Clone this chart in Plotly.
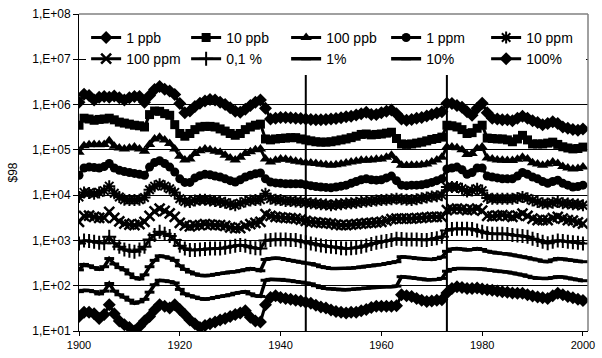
import plotly.graph_objects as go

# ---------------- data ----------------
years = list(range(1900, 2001))

series_names = ["1 ppb", "10 ppb", "100 ppb", "1 ppm", "10 ppm",
                "100 ppm", "0,1 %", "1%", "10%", "100%"]

ppb_1 = [
    1.12e6, 1.70e6, 1.58e6, 1.26e6, 1.45e6, 1.51e6, 1.45e6, 1.55e6, 1.41e6, 1.26e6,
    1.41e6, 1.51e6, 1.51e6, 1.12e6, 1.58e6, 2.14e6, 2.51e6, 2.19e6, 2.0e6, 1.66e6,
    1.05e6, 6.6e5, 7.2e5, 9.1e5, 1.07e6, 1.2e6, 1.29e6, 1.26e6, 1.12e6, 1.0e6,
    8.5e5, 7.1e5, 6.8e5, 7.9e5, 9.5e5, 1.12e6, 1.26e6, 8.3e5, 4.8e5, 5.0e5,
    5.2e5, 5.2e5, 5.1e5, 5.0e5, 4.9e5, 4.8e5, 4.7e5, 4.6e5, 4.6e5, 4.7e5,
    4.8e5, 4.9e5, 5.1e5, 5.4e5, 5.5e5, 5.9e5, 6.3e5, 6.8e5, 6.0e5, 6.0e5,
    6.6e5, 7.1e5, 7.6e5, 6.3e5, 4.8e5, 4.5e5, 4.7e5, 5.0e5, 5.2e5, 5.6e5,
    6.0e5, 6.5e5, 6.9e5, 1.07e6, 1.05e6, 9.5e5, 8.7e5, 6.9e5, 5.8e5, 8.3e5,
    1.07e6, 6.6e5, 5.0e5, 4.8e5, 4.6e5, 4.6e5, 4.4e5, 5.0e5, 5.5e5, 5.0e5,
    4.4e5, 4.0e5, 3.6e5, 3.8e5, 4.2e5, 3.8e5, 3.2e5, 3.0e5, 2.8e5, 2.7e5,
    2.9e5]

ppb_10 = [
    3.5e5, 5.0e5, 4.8e5, 4.5e5, 4.7e5, 4.8e5, 5.0e5, 4.6e5, 4.1e5, 3.9e5,
    3.7e5, 3.5e5, 3.4e5, 3.2e5, 6.0e5, 7.2e5, 7.1e5, 6.3e5, 5.8e5, 3.6e5,
    2.3e5, 2.0e5, 2.3e5, 2.8e5, 3.2e5, 3.3e5, 3.3e5, 3.2e5, 2.9e5, 2.6e5,
    2.3e5, 2.1e5, 2.3e5, 2.8e5, 3.2e5, 3.5e5, 3.7e5, 1.74e5, 1.66e5, 1.74e5,
    1.78e5, 1.82e5, 1.86e5, 1.86e5, 1.74e5, 1.66e5, 1.58e5, 1.51e5, 1.48e5, 1.48e5,
    1.51e5, 1.58e5, 1.66e5, 1.74e5, 1.86e5, 2.0e5, 2.19e5, 2.24e5, 2.14e5, 2.19e5,
    2.24e5, 2.34e5, 2.45e5, 1.78e5, 1.35e5, 1.32e5, 1.35e5, 1.41e5, 1.48e5, 1.58e5,
    1.70e5, 1.78e5, 1.91e5, 3.5e5, 3.4e5, 3.2e5, 2.8e5, 2.3e5, 2.4e5, 3.0e5,
    3.5e5, 1.82e5, 1.78e5, 1.74e5, 1.74e5, 1.66e5, 1.51e5, 1.74e5, 2.09e5, 1.66e5,
    1.35e5, 1.35e5, 1.35e5, 1.41e5, 1.48e5, 1.32e5, 1.17e5, 1.1e5, 1.05e5, 1.07e5,
    1.15e5]

ppb_100 = [
    8.9e4, 1.23e5, 1.29e5, 1.32e5, 1.29e5, 1.32e5, 1.58e5, 1.2e5, 1.1e5, 1.05e5,
    1.1e5, 1.15e5, 1.05e5, 9.3e4, 1.32e5, 1.74e5, 1.91e5, 1.66e5, 1.38e5, 1.05e5,
    7.2e4, 6.0e4, 6.3e4, 8.3e4, 9.5e4, 1.05e5, 1.0e5, 9.3e4, 8.9e4, 7.6e4,
    6.6e4, 6.0e4, 6.9e4, 8.3e4, 9.1e4, 1.0e5, 1.05e5, 6.3e4, 5.4e4, 5.9e4,
    6.3e4, 6.2e4, 5.9e4, 5.6e4, 5.4e4, 5.2e4, 5.1e4, 5.0e4, 4.8e4, 4.7e4,
    4.6e4, 4.7e4, 4.9e4, 5.1e4, 5.4e4, 5.6e4, 5.9e4, 5.9e4, 6.0e4, 6.2e4,
    6.3e4, 6.9e4, 7.6e4, 5.8e4, 4.6e4, 4.5e4, 4.6e4, 4.6e4, 4.7e4, 4.9e4,
    5.4e4, 6.0e4, 6.9e4, 1.15e5, 1.15e5, 1.12e5, 1.0e5, 7.9e4, 8.3e4, 1.07e5,
    1.15e5, 6.6e4, 6.3e4, 6.0e4, 5.9e4, 5.8e4, 5.8e4, 6.2e4, 6.9e4, 6.3e4,
    5.2e4, 4.9e4, 4.6e4, 4.9e4, 5.4e4, 5.0e4, 4.3e4, 4.0e4, 3.8e4, 3.9e4,
    4.2e4]

ppm_1 = [
    2.75e4, 3.98e4, 4.17e4, 4.07e4, 3.98e4, 4.27e4, 5.0e4, 3.98e4, 3.55e4, 3.31e4,
    3.16e4, 3.02e4, 2.88e4, 2.75e4, 4.17e4, 5.25e4, 5.75e4, 5.0e4, 4.17e4, 3.24e4,
    2.29e4, 1.91e4, 1.91e4, 2.4e4, 2.69e4, 2.88e4, 2.82e4, 2.63e4, 2.51e4, 2.29e4,
    2.09e4, 1.95e4, 2.19e4, 2.51e4, 2.75e4, 2.95e4, 3.09e4, 2.29e4, 1.95e4, 1.86e4,
    1.82e4, 1.78e4, 1.78e4, 1.78e4, 1.78e4, 1.70e4, 1.62e4, 1.55e4, 1.51e4, 1.48e4,
    1.45e4, 1.51e4, 1.58e4, 1.66e4, 1.82e4, 2.0e4, 2.19e4, 2.29e4, 2.19e4, 2.14e4,
    2.19e4, 2.4e4, 2.63e4, 2.09e4, 1.66e4, 1.62e4, 1.66e4, 1.66e4, 1.70e4, 1.78e4,
    1.91e4, 2.09e4, 2.29e4, 3.8e4, 3.98e4, 4.17e4, 3.63e4, 2.88e4, 3.16e4, 3.98e4,
    3.98e4, 2.63e4, 2.51e4, 2.4e4, 2.29e4, 2.29e4, 2.29e4, 2.63e4, 3.16e4, 2.88e4,
    2.51e4, 2.29e4, 2.0e4, 1.82e4, 2.0e4, 2.14e4, 1.82e4, 1.66e4, 1.51e4, 1.55e4,
    1.66e4]

ppm_10 = [
    9.1e3, 1.15e4, 1.12e4, 1.07e4, 1.15e4, 1.26e4, 1.58e4, 1.1e4, 9.1e3, 7.9e3,
    7.8e3, 7.8e3, 7.9e3, 8.9e3, 1.32e4, 1.58e4, 1.74e4, 1.58e4, 1.38e4, 1.15e4,
    8.3e3, 7.2e3, 7.1e3, 7.6e3, 7.9e3, 7.9e3, 7.6e3, 7.4e3, 7.1e3, 6.8e3,
    6.3e3, 6.0e3, 6.6e3, 7.2e3, 7.6e3, 7.8e3, 7.9e3, 1.07e4, 8.3e3, 7.9e3,
    7.8e3, 7.4e3, 7.4e3, 7.2e3, 7.1e3, 6.9e3, 6.6e3, 6.5e3, 6.3e3, 6.2e3,
    6.0e3, 6.2e3, 6.3e3, 6.5e3, 6.6e3, 6.8e3, 7.1e3, 7.2e3, 7.4e3, 7.6e3,
    7.8e3, 7.9e3, 8.1e3, 8.3e3, 8.1e3, 7.9e3, 7.8e3, 8.1e3, 8.5e3, 8.9e3,
    9.3e3, 9.5e3, 1.0e4, 1.51e4, 1.51e4, 1.51e4, 1.38e4, 1.2e4, 1.26e4, 1.38e4,
    1.26e4, 8.7e3, 8.3e3, 8.3e3, 8.3e3, 8.3e3, 8.3e3, 8.7e3, 9.1e3, 8.5e3,
    7.6e3, 7.1e3, 6.6e3, 6.5e3, 6.8e3, 7.1e3, 6.6e3, 6.5e3, 6.3e3, 6.2e3,
    6.0e3]

ppm_100 = [
    2.57e3, 3.47e3, 3.55e3, 3.31e3, 3.16e3, 3.16e3, 4.27e3, 3.16e3, 2.63e3, 2.34e3,
    2.24e3, 2.19e3, 2.29e3, 2.57e3, 3.47e3, 4.37e3, 5.01e3, 4.47e3, 3.98e3, 3.31e3,
    2.45e3, 2.14e3, 2.04e3, 2.14e3, 2.19e3, 2.29e3, 2.24e3, 2.19e3, 2.19e3, 2.09e3,
    1.95e3, 1.86e3, 1.86e3, 2.09e3, 2.29e3, 2.45e3, 2.57e3, 3.8e3, 3.47e3, 3.31e3,
    3.24e3, 3.16e3, 3.09e3, 3.02e3, 2.88e3, 2.69e3, 2.57e3, 2.51e3, 2.45e3, 2.4e3,
    2.34e3, 2.24e3, 2.19e3, 2.19e3, 2.24e3, 2.29e3, 2.34e3, 2.4e3, 2.45e3, 2.51e3,
    2.57e3, 2.75e3, 2.95e3, 3.02e3, 3.02e3, 3.02e3, 3.02e3, 3.09e3, 3.16e3, 3.24e3,
    3.31e3, 3.31e3, 3.31e3, 4.68e3, 4.9e3, 5.01e3, 4.9e3, 4.68e3, 4.79e3, 5.01e3,
    4.57e3, 3.47e3, 3.39e3, 3.55e3, 3.63e3, 3.47e3, 3.31e3, 3.55e3, 3.89e3, 3.47e3,
    3.02e3, 2.82e3, 2.82e3, 2.82e3, 3.09e3, 3.31e3, 3.02e3, 2.82e3, 2.75e3, 2.51e3,
    2.34e3]

pct_0_1 = [
    851, 1000, 977, 933, 891, 871, 1200, 871, 724, 631,
    589, 562, 631, 724, 1047, 1318, 1549, 1413, 1259, 1023,
    759, 661, 617, 617, 631, 646, 661, 661, 661, 692,
    724, 759, 794, 759, 708, 676, 661, 1000, 1023, 1047,
    1047, 1047, 1023, 1023, 955, 912, 851, 813, 776, 741,
    724, 708, 676, 661, 676, 692, 724, 776, 832, 891,
    933, 977, 1023, 1096, 1072, 1047, 1047, 1047, 1023, 1023,
    1072, 1122, 1202, 1660, 1778, 1820, 1820, 1820, 1778, 1660,
    1549, 1445, 1413, 1413, 1413, 1380, 1318, 1288, 1259, 1202,
    1096, 1023, 933, 871, 933, 1000, 977, 933, 912, 891,
    851]

pct_1 = [
    224, 295, 275, 251, 229, 263, 398, 302, 251, 224,
    182, 151, 141, 174, 263, 363, 457, 437, 407, 363,
    275, 229, 200, 182, 170, 166, 170, 178, 186, 191,
    200, 204, 214, 224, 240, 229, 214, 380, 398, 407,
    398, 380, 363, 347, 331, 316, 309, 288, 263, 251,
    240, 240, 240, 240, 245, 251, 257, 269, 275, 288,
    295, 309, 324, 339, 437, 427, 417, 398, 389, 380,
    380, 398, 427, 575, 646, 661, 646, 617, 631, 661,
    631, 575, 550, 525, 513, 501, 479, 457, 437, 417,
    389, 372, 347, 339, 372, 398, 389, 372, 363, 347,
    339]

pct_10 = [
    74, 79, 78, 74, 66, 76, 112, 76, 63, 56,
    48, 41, 44, 50, 72, 105, 132, 129, 123, 115,
    83, 66, 60, 56, 52, 50, 52, 55, 58, 60,
    63, 68, 71, 74, 66, 60, 58, 132, 138, 138,
    138, 132, 129, 123, 120, 115, 110, 100, 91, 87,
    85, 83, 81, 81, 83, 85, 87, 89, 91, 93,
    95, 95, 95, 98, 158, 155, 151, 145, 141, 135,
    135, 138, 145, 209, 229, 240, 240, 240, 240, 240,
    234, 224, 219, 209, 204, 200, 191, 182, 174, 162,
    151, 145, 145, 145, 151, 158, 155, 148, 141, 135,
    129]

pct_100 = [
    21, 26, 26, 24, 19, 23, 38, 24, 16.6, 13.8,
    12, 10, 12.6, 16.6, 21, 29, 38, 35, 32, 38,
    30, 23, 17.4, 14.5, 12, 13.2, 14.5, 15.8, 17.4, 19,
    21, 23, 25, 28, 20, 16.6, 15.8, 38, 55, 60,
    55, 52, 50, 48, 46, 43, 41, 37, 34, 32,
    29, 27, 26, 25, 26, 26, 28, 30, 33, 35,
    35, 35, 35, 36, 63, 60, 58, 52, 48, 45,
    46, 48, 49, 69, 87, 95, 91, 87, 87, 89,
    85, 81, 79, 76, 74, 72, 69, 68, 68, 63,
    59, 56, 54, 52, 60, 68, 63, 58, 54, 50,
    47]

series_values = [ppb_1, ppb_10, ppb_100, ppm_1, ppm_10,
                 ppm_100, pct_0_1, pct_1, pct_10, pct_100]

event_years = [1945, 1973]

y_tick_values = [1e1, 1e2, 1e3, 1e4, 1e5, 1e6, 1e7, 1e8]
y_tick_labels = ["1,E+01", "1,E+02", "1,E+03", "1,E+04",
                 "1,E+05", "1,E+06", "1,E+07", "1,E+08"]
x_tick_values = [1900, 1920, 1940, 1960, 1980, 2000]

# ---------------- styles ----------------
marker_styles = [
    dict(symbol="diamond", size=10),
    dict(symbol="square", size=9),
    dict(symbol="triangle-up", size=10),
    dict(symbol="circle", size=9),
    dict(symbol="asterisk-open", size=10, line=dict(width=2, color="black")),
    dict(symbol="x-thin-open", size=10, line=dict(width=2.5, color="black")),
    dict(symbol="cross-thin-open", size=10, line=dict(width=2, color="black")),
    dict(symbol="line-ew-open", size=7, line=dict(width=3, color="black")),
    dict(symbol="line-ew-open", size=7, line=dict(width=3, color="black")),
    dict(symbol="diamond", size=10),
]
line_widths = [3, 3, 3, 3, 3, 3, 3, 3.5, 3.5, 3]

FONT = "Liberation Sans, Arial, Helvetica, sans-serif"

fig = go.Figure()
for name, vals, mk, lw in zip(series_names, series_values, marker_styles, line_widths):
    fig.add_trace(go.Scatter(
        x=years, y=vals, name=name, mode="lines+markers",
        line=dict(color="black", width=lw),
        marker=dict(color="black", **mk),
    ))

shapes = []
for yr in event_years:
    shapes.append(dict(type="line", xref="x", yref="paper", x0=yr, x1=yr,
                       y0=0, y1=0.81, line=dict(color="black", width=2),
                       layer="above"))
# plot-area frame (top and right, grey)
shapes.append(dict(type="line", xref="paper", yref="paper", x0=0, x1=1, y0=1, y1=1,
                   line=dict(color="#808080", width=1.5), layer="above"))
shapes.append(dict(type="line", xref="paper", yref="paper", x0=1, x1=1, y0=0, y1=1,
                   line=dict(color="#808080", width=1.5), layer="above"))

fig.update_layout(
    width=602, height=358,
    margin=dict(l=79, r=7, t=13, b=27),
    paper_bgcolor="white", plot_bgcolor="white",
    font=dict(family=FONT, color="black"),
    shapes=shapes,
    showlegend=True,
    legend=dict(orientation="h", x=0.014, y=0.975, xanchor="left", yanchor="top",
                bgcolor="white", borderwidth=0, entrywidth=55, entrywidthmode="pixels",
                font=dict(size=14, family=FONT, color="black"), traceorder="normal",
                itemwidth=30),
    xaxis=dict(range=[1900, 2001], tickvals=x_tick_values, ticks="outside", ticklen=4,
               tickcolor="black", showline=True, linecolor="black", linewidth=1,
               showgrid=False, zeroline=False, tickfont=dict(size=11),
               ticklabeloverflow="allow"),
    yaxis=dict(type="log", range=[1, 8], tickvals=y_tick_values, ticktext=y_tick_labels,
               ticks="outside", ticklen=5, tickcolor="black", showline=True,
               linecolor="black", linewidth=1, showgrid=True, gridcolor="black",
               gridwidth=1, zeroline=False, tickfont=dict(size=12),
               title=dict(text="$98", font=dict(size=12), standoff=12)),
)

fig.write_html("out.html", config={"displayModeBar": False},
               post_script="document.body.style.margin='0';")
